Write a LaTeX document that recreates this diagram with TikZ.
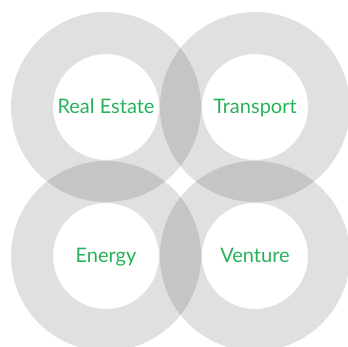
\documentclass[tikz,border=0pt]{standalone}
\usepackage{fontspec}
\setmainfont{Lato}
\usetikzlibrary{positioning}
\definecolor{sectorgreen}{RGB}{38,178,88}
\tikzset{
    sector/.style={text=sectorgreen, font=\fontsize{20}{24}\selectfont,
                   inner sep=0pt, text height=14pt, text depth=0pt},
    ring/.style={fill=black, fill opacity=0.12, even odd rule}
}
\begin{document}
\begin{tikzpicture}[x=1pt, y=-1pt]
        \useasboundingbox (0,0) rectangle (348,347);
        % sectors
        \node[sector] (estate) at (106,107) {Real Estate};
        \node[sector] (transport) at (255,107) {Transport};
        \node[sector] (energy) at (106,256) {Energy};
        \node[sector] (venture) at (255,256) {Venture};
        % rings
        \fill[ring] (estate.center) circle[radius=95pt] circle[radius=53pt];
        \fill[ring] (transport.center) circle[radius=95pt] circle[radius=53pt];
        \fill[ring] (energy.center) circle[radius=95pt] circle[radius=53pt];
        \fill[ring] (venture.center) circle[radius=95pt] circle[radius=53pt];
    \end{tikzpicture}
\end{document}
